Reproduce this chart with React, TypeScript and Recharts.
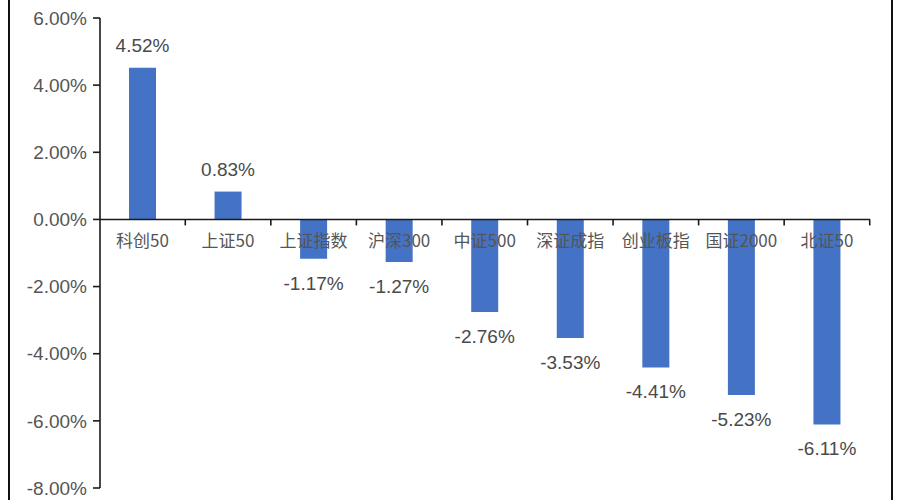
import React from "react";
import { BarChart, Bar, XAxis, YAxis, ReferenceLine, LabelList } from "recharts";

const categories = ["科创50", "上证50", "上证指数", "沪深300", "中证500", "深证成指", "创业板指", "国证2000", "北证50"];
const changes = [4.52, 0.83, -1.17, -1.27, -2.76, -3.53, -4.41, -5.23, -6.11];
const yTicks = [-8, -6, -4, -2, 0, 2, 4, 6];

const data = categories.map((name, i) => ({ name, value: changes[i] }));

const W = 900;
const H = 500;
const MARGIN = { top: 18, right: 30, bottom: 12, left: 0 };
const Y_AXIS_W = 100;
const PLOT_W = W - MARGIN.left - MARGIN.right - Y_AXIS_W;
const PLOT_H = H - MARGIN.top - MARGIN.bottom;
const Y_MIN = -8;
const Y_MAX = 6;
const ZERO_Y = MARGIN.top + (PLOT_H * Y_MAX) / (Y_MAX - Y_MIN);
const BAND = PLOT_W / categories.length;

const LATIN = '"Liberation Sans", Arial, "Noto Sans CJK SC", sans-serif';
const CJK = '"Noto Sans CJK SC", "Liberation Sans", sans-serif';

const fmt = (v: number) => v.toFixed(2) + "%";

const ValueLabel = (props: any) => {
  const { x, y, width, height, value } = props;
  const cx = x + width / 2;
  const top = Math.min(y, y + height);
  const bottom = Math.max(y, y + height);
  const ty = value >= 0 ? top - 15.2 : bottom + 30.8;
  return (
    <text x={cx} y={ty} textAnchor="middle" fontSize={19} fill="#4a4a4a" fontFamily={LATIN}>
      {fmt(value)}
    </text>
  );
};

const CategoryLabel = (props: any) => {
  const { x, width, value } = props;
  const cx = x + width / 2;
  const bx = cx + BAND / 2;
  return (
    <g>
      <line x1={bx} x2={bx} y1={ZERO_Y} y2={ZERO_Y + 6} stroke="#1a1a1a" strokeWidth={1.6} />
      <text x={cx} y={ZERO_Y + 27.5} textAnchor="middle" fontSize={17} fill="#555555" fontFamily={CJK}>
        {value}
      </text>
    </g>
  );
};

export default function App() {
  return (
    <div style={{ position: "fixed", left: 0, top: 0, width: W, height: H, background: "#fff" }}>
      <BarChart width={W} height={H} data={data} margin={MARGIN}>
        <XAxis dataKey="name" hide />
        <YAxis
          width={Y_AXIS_W}
          domain={[Y_MIN, Y_MAX]}
          ticks={yTicks}
          interval={0}
          allowDataOverflow
          tickFormatter={fmt}
          axisLine={{ stroke: "#1a1a1a", strokeWidth: 1.6 }}
          tickLine={{ stroke: "#1a1a1a", strokeWidth: 1.6 }}
          tickSize={7}
          tickMargin={6}
          tick={{ fontSize: 19, fill: "#555555", fontFamily: LATIN }}
        />
        <Bar dataKey="value" fill="#4472C4" barSize={27} isAnimationActive={false}>
          <LabelList dataKey="value" content={<ValueLabel />} />
          <LabelList dataKey="name" content={<CategoryLabel />} />
        </Bar>
        <ReferenceLine y={0} stroke="#1a1a1a" strokeWidth={1.6} />
      </BarChart>
      <div style={{ position: "absolute", left: 8, top: 0, width: 2, height: H, background: "#111" }} />
      <div style={{ position: "absolute", left: 891, top: 0, width: 2, height: H, background: "#111" }} />
    </div>
  );
}
